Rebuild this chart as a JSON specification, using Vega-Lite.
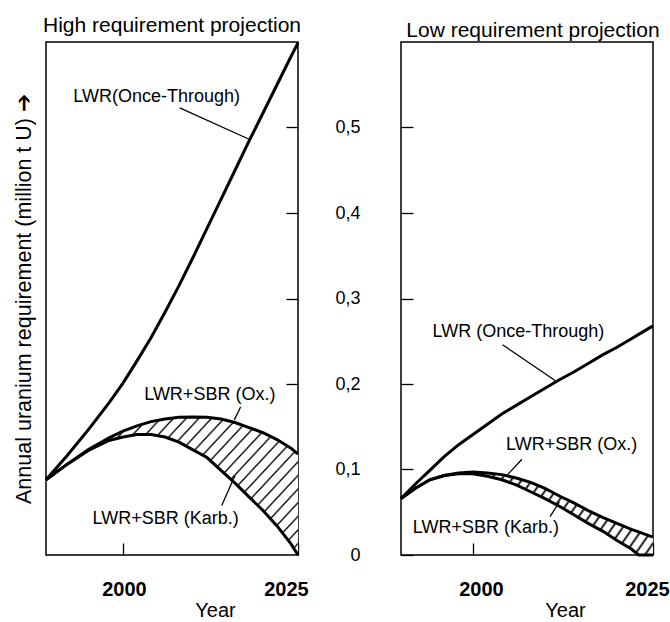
{
  "$schema": "https://vega.github.io/schema/vega-lite/v6.json",
  "background": "white",
  "padding": {"left": 12, "top": 14, "right": 0, "bottom": 0},
  "bounds": "flush",
  "spacing": 103,
  "config": {
    "font": "Liberation Sans",
    "locale": {"number": {"decimal": ",", "thousands": ".", "grouping": [3], "currency": ["", ""]}},
    "view": {"stroke": "black", "strokeWidth": 1.5},
    "axis": {"domain": false, "grid": false, "tickColor": "black", "tickWidth": 1.3, "labelColor": "black", "titleColor": "black", "labelFont": "Liberation Sans", "titleFont": "Liberation Sans"},
    "title": {"font": "Liberation Sans", "fontSize": 21, "fontWeight": "normal", "color": "black", "offset": 1}
  },
  "datasets": {
    "high": [
      {"year": 1989, "lwr": 0.088, "ox": 0.088, "karb": 0.088},
      {"year": 1992, "lwr": 0.116, "ox": 0.106, "karb": 0.106},
      {"year": 1995, "lwr": 0.146, "ox": 0.123, "karb": 0.122},
      {"year": 1998, "lwr": 0.178, "ox": 0.137, "karb": 0.134},
      {"year": 2000, "lwr": 0.201, "ox": 0.145, "karb": 0.138},
      {"year": 2002, "lwr": 0.227, "ox": 0.151, "karb": 0.141},
      {"year": 2004, "lwr": 0.254, "ox": 0.156, "karb": 0.141},
      {"year": 2006, "lwr": 0.284, "ox": 0.159, "karb": 0.138},
      {"year": 2008, "lwr": 0.315, "ox": 0.161, "karb": 0.132},
      {"year": 2010, "lwr": 0.348, "ox": 0.1615, "karb": 0.123},
      {"year": 2012, "lwr": 0.382, "ox": 0.161, "karb": 0.114},
      {"year": 2014, "lwr": 0.416, "ox": 0.159, "karb": 0.099},
      {"year": 2016, "lwr": 0.450, "ox": 0.155, "karb": 0.084},
      {"year": 2018, "lwr": 0.484, "ox": 0.149, "karb": 0.068},
      {"year": 2020, "lwr": 0.517, "ox": 0.143, "karb": 0.052},
      {"year": 2022, "lwr": 0.550, "ox": 0.135, "karb": 0.034},
      {"year": 2024, "lwr": 0.583, "ox": 0.125, "karb": 0.013},
      {"year": 2025, "lwr": 0.599, "ox": 0.118, "karb": 0.0}
    ],
    "low": [
      {"year": 1990, "lwr": 0.066, "ox": 0.066, "karb": 0.066},
      {"year": 1992, "lwr": 0.083, "ox": 0.078, "karb": 0.078},
      {"year": 1994, "lwr": 0.099, "ox": 0.088, "karb": 0.088},
      {"year": 1996, "lwr": 0.115, "ox": 0.093, "karb": 0.093},
      {"year": 1998, "lwr": 0.129, "ox": 0.096, "karb": 0.095},
      {"year": 2000, "lwr": 0.141, "ox": 0.097, "karb": 0.095},
      {"year": 2002, "lwr": 0.153, "ox": 0.096, "karb": 0.092},
      {"year": 2004, "lwr": 0.165, "ox": 0.094, "karb": 0.088},
      {"year": 2006, "lwr": 0.175, "ox": 0.090, "karb": 0.082},
      {"year": 2008, "lwr": 0.185, "ox": 0.085, "karb": 0.074},
      {"year": 2010, "lwr": 0.195, "ox": 0.078, "karb": 0.066},
      {"year": 2012, "lwr": 0.205, "ox": 0.069, "karb": 0.057},
      {"year": 2014, "lwr": 0.214, "ox": 0.061, "karb": 0.047},
      {"year": 2016, "lwr": 0.224, "ox": 0.052, "karb": 0.037},
      {"year": 2018, "lwr": 0.234, "ox": 0.044, "karb": 0.028},
      {"year": 2020, "lwr": 0.243, "ox": 0.037, "karb": 0.017},
      {"year": 2022, "lwr": 0.253, "ox": 0.030, "karb": 0.007},
      {"year": 2023, "lwr": 0.258, "ox": 0.027, "karb": 0.0},
      {"year": 2025, "lwr": 0.268, "ox": 0.021, "karb": 0.0}
    ],
    "highLabels": [
      {"year": 2004.8, "value": 0.536, "label": "LWR(Once-Through)"},
      {"year": 2012.4, "value": 0.187, "label": "LWR+SBR (Ox.)"},
      {"year": 2006.1, "value": 0.042, "label": "LWR+SBR (Karb.)"}
    ],
    "highLeaders": [
      {"year": 2008.1, "value": 0.523, "year2": 2018.1, "value2": 0.486},
      {"year": 2016.8, "value": 0.173, "year2": 2015.9, "value2": 0.158},
      {"year": 2014.1, "value": 0.058, "year2": 2016.0, "value2": 0.093}
    ],
    "lowLabels": [
      {"year": 2006.3, "value": 0.261, "label": "LWR (Once-Through)"},
      {"year": 2013.7, "value": 0.129, "label": "LWR+SBR (Ox.)"},
      {"year": 2001.8, "value": 0.032, "label": "LWR+SBR (Karb.)"}
    ],
    "lowLeaders": [
      {"year": 2004.1, "value": 0.246, "year2": 2011.4, "value2": 0.204},
      {"year": 2006.8, "value": 0.112, "year2": 2004.8, "value2": 0.094},
      {"year": 2010.7, "value": 0.045, "year2": 2012.0, "value2": 0.062}
    ]
  },
  "hconcat": [
    {
      "width": 252,
      "height": 513,
      "title": {"text": "High requirement projection"},
      "encoding": {
        "x": {
          "field": "year", "type": "quantitative",
          "scale": {"domain": [1989, 2025], "nice": false, "zero": false},
          "axis": {
            "values": [2000, 2025], "format": "d", "tickSize": -12, "labelPadding": 36,
            "labelFontSize": 20, "labelFontWeight": "bold", "labelFlush": false,
            "labelOffset": {"condition": {"test": "datum.value == 2025", "value": -12}, "value": 1},
            "title": "Year", "titleFontSize": 20, "titleFontWeight": "normal", "titleX": 169, "titleY": 45
          }
        }
      },
      "layer": [
        {
          "data": {"name": "high"},
          "mark": {
            "type": "area", "stroke": null,
            "fill": {
              "gradient": "linear", "x1": 0, "y1": 0, "x2": 1.199, "y2": 0.612,
              "stops": [
                {"offset": 0, "color": "white"}, {"offset": 0.0048, "color": "black"}, {"offset": 0.0096, "color": "white"},
                {"offset": 0.03333, "color": "white"}, {"offset": 0.03813, "color": "black"}, {"offset": 0.04293, "color": "white"},
                {"offset": 0.06667, "color": "white"}, {"offset": 0.07147, "color": "black"}, {"offset": 0.07627, "color": "white"},
                {"offset": 0.1, "color": "white"}, {"offset": 0.1048, "color": "black"}, {"offset": 0.1096, "color": "white"},
                {"offset": 0.13333, "color": "white"}, {"offset": 0.13813, "color": "black"}, {"offset": 0.14293, "color": "white"},
                {"offset": 0.16667, "color": "white"}, {"offset": 0.17147, "color": "black"}, {"offset": 0.17627, "color": "white"},
                {"offset": 0.2, "color": "white"}, {"offset": 0.2048, "color": "black"}, {"offset": 0.2096, "color": "white"},
                {"offset": 0.23333, "color": "white"}, {"offset": 0.23813, "color": "black"}, {"offset": 0.24293, "color": "white"},
                {"offset": 0.26667, "color": "white"}, {"offset": 0.27147, "color": "black"}, {"offset": 0.27627, "color": "white"},
                {"offset": 0.3, "color": "white"}, {"offset": 0.3048, "color": "black"}, {"offset": 0.3096, "color": "white"},
                {"offset": 0.33333, "color": "white"}, {"offset": 0.33813, "color": "black"}, {"offset": 0.34293, "color": "white"},
                {"offset": 0.36667, "color": "white"}, {"offset": 0.37147, "color": "black"}, {"offset": 0.37627, "color": "white"},
                {"offset": 0.4, "color": "white"}, {"offset": 0.4048, "color": "black"}, {"offset": 0.4096, "color": "white"},
                {"offset": 0.43333, "color": "white"}, {"offset": 0.43813, "color": "black"}, {"offset": 0.44293, "color": "white"},
                {"offset": 0.46667, "color": "white"}, {"offset": 0.47147, "color": "black"}, {"offset": 0.47627, "color": "white"},
                {"offset": 0.5, "color": "white"}, {"offset": 0.5048, "color": "black"}, {"offset": 0.5096, "color": "white"},
                {"offset": 0.53333, "color": "white"}, {"offset": 0.53813, "color": "black"}, {"offset": 0.54293, "color": "white"},
                {"offset": 0.56667, "color": "white"}, {"offset": 0.57147, "color": "black"}, {"offset": 0.57627, "color": "white"},
                {"offset": 0.6, "color": "white"}, {"offset": 0.6048, "color": "black"}, {"offset": 0.6096, "color": "white"},
                {"offset": 0.63333, "color": "white"}, {"offset": 0.63813, "color": "black"}, {"offset": 0.64293, "color": "white"},
                {"offset": 0.66667, "color": "white"}, {"offset": 0.67147, "color": "black"}, {"offset": 0.67627, "color": "white"},
                {"offset": 0.7, "color": "white"}, {"offset": 0.7048, "color": "black"}, {"offset": 0.7096, "color": "white"},
                {"offset": 0.73333, "color": "white"}, {"offset": 0.73813, "color": "black"}, {"offset": 0.74293, "color": "white"},
                {"offset": 0.76667, "color": "white"}, {"offset": 0.77147, "color": "black"}, {"offset": 0.77627, "color": "white"},
                {"offset": 0.8, "color": "white"}, {"offset": 0.8048, "color": "black"}, {"offset": 0.8096, "color": "white"},
                {"offset": 0.83333, "color": "white"}, {"offset": 0.83813, "color": "black"}, {"offset": 0.84293, "color": "white"},
                {"offset": 0.86667, "color": "white"}, {"offset": 0.87147, "color": "black"}, {"offset": 0.87627, "color": "white"},
                {"offset": 0.9, "color": "white"}, {"offset": 0.9048, "color": "black"}, {"offset": 0.9096, "color": "white"},
                {"offset": 0.93333, "color": "white"}, {"offset": 0.93813, "color": "black"}, {"offset": 0.94293, "color": "white"},
                {"offset": 0.96667, "color": "white"}, {"offset": 0.97147, "color": "black"}, {"offset": 0.97627, "color": "white"},
                {"offset": 1, "color": "white"}
              ]
            }
          },
          "encoding": {
            "y": {
              "field": "ox", "type": "quantitative",
              "scale": {"domain": [0, 0.6], "nice": false},
              "axis": {"orient": "left", "ticks": false, "labels": false, "title": "Annual uranium requirement (million t U) ➔", "titleFontSize": 21.5, "titleFontWeight": "normal", "titlePadding": 11}
            },
            "y2": {"field": "karb"}
          }
        },
        {
          "data": {"name": "high"},
          "transform": [{"fold": ["lwr", "ox", "karb"], "as": ["series", "value"]}],
          "mark": {"type": "line", "color": "black", "strokeWidth": 3},
          "encoding": {
            "y": {
              "field": "value", "type": "quantitative",
              "scale": {"domain": [0, 0.6], "nice": false},
              "axis": {"orient": "right", "values": [0.1, 0.2, 0.3, 0.4, 0.5], "tickSize": -12, "labels": false, "title": null}
            },
            "detail": {"field": "series"}
          }
        },
        {
          "data": {"name": "highLeaders"},
          "mark": {"type": "rule", "color": "black", "strokeWidth": 1.3},
          "encoding": {
            "y": {"field": "value", "type": "quantitative", "scale": {"domain": [0, 0.6], "nice": false}, "axis": null},
            "x2": {"field": "year2"},
            "y2": {"field": "value2"}
          }
        },
        {
          "data": {"name": "highLabels"},
          "mark": {"type": "text", "fontSize": 18, "color": "black", "align": "center", "baseline": "middle"},
          "encoding": {
            "y": {"field": "value", "type": "quantitative", "scale": {"domain": [0, 0.6], "nice": false}, "axis": null},
            "text": {"field": "label"}
          }
        }
      ]
    },
    {
      "width": 252,
      "height": 513,
      "title": {"text": "Low requirement projection", "dx": 6},
      "encoding": {
        "x": {
          "field": "year", "type": "quantitative",
          "scale": {"domain": [1990, 2025], "nice": false, "zero": false},
          "axis": {
            "values": [2000, 2025], "format": "d", "tickSize": -12, "labelPadding": 36,
            "labelFontSize": 20, "labelFontWeight": "bold", "labelFlush": false,
            "labelOffset": {"condition": {"test": "datum.value == 2000", "value": 8}, "value": -6},
            "title": "Year", "titleFontSize": 20, "titleFontWeight": "normal", "titleX": 164, "titleY": 45
          }
        },
        "y": {
          "type": "quantitative",
          "scale": {"domain": [0, 0.6], "nice": false},
          "axis": {
            "orient": "left", "values": [0, 0.1, 0.2, 0.3, 0.4, 0.5], "format": ".1~f", "tickSize": -12, "labelPadding": 53,
            "labelFontSize": 18, "title": null
          }
        }
      },
      "layer": [
        {
          "data": {"name": "low"},
          "mark": {
            "type": "area", "stroke": null,
            "fill": {
              "gradient": "linear", "x1": 0, "y1": 0, "x2": 1.1685, "y2": 0.2695,
              "stops": [
                {"offset": 0, "color": "white"}, {"offset": 0.007, "color": "black"}, {"offset": 0.014, "color": "white"},
                {"offset": 0.03333, "color": "white"}, {"offset": 0.04033, "color": "black"}, {"offset": 0.04733, "color": "white"},
                {"offset": 0.06667, "color": "white"}, {"offset": 0.07367, "color": "black"}, {"offset": 0.08067, "color": "white"},
                {"offset": 0.1, "color": "white"}, {"offset": 0.107, "color": "black"}, {"offset": 0.114, "color": "white"},
                {"offset": 0.13333, "color": "white"}, {"offset": 0.14033, "color": "black"}, {"offset": 0.14733, "color": "white"},
                {"offset": 0.16667, "color": "white"}, {"offset": 0.17367, "color": "black"}, {"offset": 0.18067, "color": "white"},
                {"offset": 0.2, "color": "white"}, {"offset": 0.207, "color": "black"}, {"offset": 0.214, "color": "white"},
                {"offset": 0.23333, "color": "white"}, {"offset": 0.24033, "color": "black"}, {"offset": 0.24733, "color": "white"},
                {"offset": 0.26667, "color": "white"}, {"offset": 0.27367, "color": "black"}, {"offset": 0.28067, "color": "white"},
                {"offset": 0.3, "color": "white"}, {"offset": 0.307, "color": "black"}, {"offset": 0.314, "color": "white"},
                {"offset": 0.33333, "color": "white"}, {"offset": 0.34033, "color": "black"}, {"offset": 0.34733, "color": "white"},
                {"offset": 0.36667, "color": "white"}, {"offset": 0.37367, "color": "black"}, {"offset": 0.38067, "color": "white"},
                {"offset": 0.4, "color": "white"}, {"offset": 0.407, "color": "black"}, {"offset": 0.414, "color": "white"},
                {"offset": 0.43333, "color": "white"}, {"offset": 0.44033, "color": "black"}, {"offset": 0.44733, "color": "white"},
                {"offset": 0.46667, "color": "white"}, {"offset": 0.47367, "color": "black"}, {"offset": 0.48067, "color": "white"},
                {"offset": 0.5, "color": "white"}, {"offset": 0.507, "color": "black"}, {"offset": 0.514, "color": "white"},
                {"offset": 0.53333, "color": "white"}, {"offset": 0.54033, "color": "black"}, {"offset": 0.54733, "color": "white"},
                {"offset": 0.56667, "color": "white"}, {"offset": 0.57367, "color": "black"}, {"offset": 0.58067, "color": "white"},
                {"offset": 0.6, "color": "white"}, {"offset": 0.607, "color": "black"}, {"offset": 0.614, "color": "white"},
                {"offset": 0.63333, "color": "white"}, {"offset": 0.64033, "color": "black"}, {"offset": 0.64733, "color": "white"},
                {"offset": 0.66667, "color": "white"}, {"offset": 0.67367, "color": "black"}, {"offset": 0.68067, "color": "white"},
                {"offset": 0.7, "color": "white"}, {"offset": 0.707, "color": "black"}, {"offset": 0.714, "color": "white"},
                {"offset": 0.73333, "color": "white"}, {"offset": 0.74033, "color": "black"}, {"offset": 0.74733, "color": "white"},
                {"offset": 0.76667, "color": "white"}, {"offset": 0.77367, "color": "black"}, {"offset": 0.78067, "color": "white"},
                {"offset": 0.8, "color": "white"}, {"offset": 0.807, "color": "black"}, {"offset": 0.814, "color": "white"},
                {"offset": 0.83333, "color": "white"}, {"offset": 0.84033, "color": "black"}, {"offset": 0.84733, "color": "white"},
                {"offset": 0.86667, "color": "white"}, {"offset": 0.87367, "color": "black"}, {"offset": 0.88067, "color": "white"},
                {"offset": 0.9, "color": "white"}, {"offset": 0.907, "color": "black"}, {"offset": 0.914, "color": "white"},
                {"offset": 0.93333, "color": "white"}, {"offset": 0.94033, "color": "black"}, {"offset": 0.94733, "color": "white"},
                {"offset": 0.96667, "color": "white"}, {"offset": 0.97367, "color": "black"}, {"offset": 0.98067, "color": "white"},
                {"offset": 1, "color": "white"}
              ]
            }
          },
          "encoding": {
            "y": {"field": "ox"},
            "y2": {"field": "karb"}
          }
        },
        {
          "data": {"name": "low"},
          "transform": [{"fold": ["lwr", "ox", "karb"], "as": ["series", "value"]}],
          "mark": {"type": "line", "color": "black", "strokeWidth": 3},
          "encoding": {
            "y": {"field": "value"},
            "detail": {"field": "series"}
          }
        },
        {
          "data": {"name": "lowLeaders"},
          "mark": {"type": "rule", "color": "black", "strokeWidth": 1.3},
          "encoding": {
            "y": {"field": "value"},
            "x2": {"field": "year2"},
            "y2": {"field": "value2"}
          }
        },
        {
          "data": {"name": "lowLabels"},
          "mark": {"type": "text", "fontSize": 18, "color": "black", "align": "center", "baseline": "middle"},
          "encoding": {
            "y": {"field": "value"},
            "text": {"field": "label"}
          }
        }
      ]
    }
  ]
}
